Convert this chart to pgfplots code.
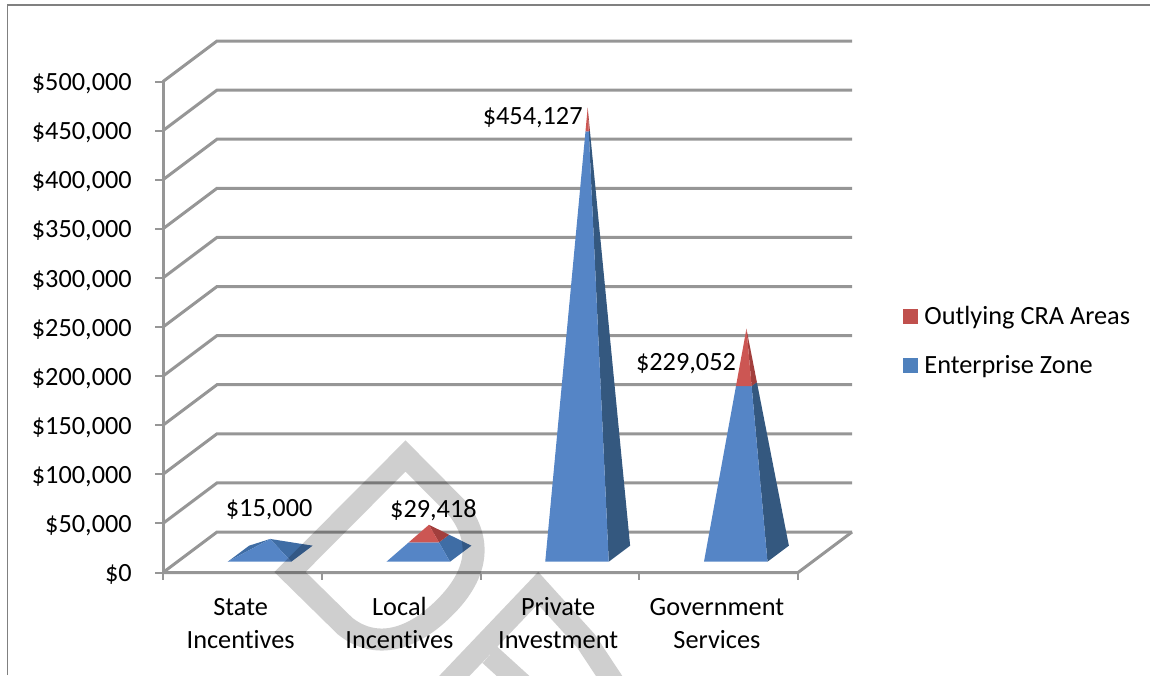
\documentclass[border=0pt]{standalone}
\usepackage{pgfplots}
\pgfplotsset{compat=1.18}
\usepackage{fontspec}
\setmainfont[Ligatures=NoCommon]{Carlito}
\definecolor{wall}{HTML}{969696}
\definecolor{ezfront}{HTML}{5585C6}
\definecolor{ezside}{HTML}{34587F}
\definecolor{ezsoft}{HTML}{3F6DA5}
\definecolor{crafront}{HTML}{CC5653}
\definecolor{craside}{HTML}{A23F3D}
\definecolor{legred}{HTML}{C0504D}
\definecolor{legblue}{HTML}{4F81BD}
\newcommand{\chartfont}{\fontsize{26.3}{33}\selectfont}
\pgfplotsset{
  face/.style={forget plot, draw=none, fill=#1},
  wallline/.style={forget plot, draw=wall, line width=3pt, line join=miter},
  swatch/.style={legend image code/.code={\path[draw=none] (0pt,0pt) -- (19pt,0pt); \fill[#1, draw=none] (0pt,-7.5pt) rectangle (15pt,7.5pt);}},
}
\begin{document}
\begin{tikzpicture}[x=1pt,y=1pt]
\path[use as bounding box] (0,0) rectangle (1150,-675);
% outer chart frame
\draw[draw=gray, line width=1.5pt] (7.5,-675) -- (7.5,-5) -- (1150,-5);
% heights on the vertical axis are in thousands of dollars
\begin{axis}[
  anchor=origin, at={(163pt,-572.5pt)},
  x={(158.75pt,0pt)}, y={(54pt,40.5pt)}, z={(0pt,0.982pt)},
  xmin=0, xmax=4, ymin=0, ymax=1, zmin=0, zmax=500,
  clip=false,
  axis lines=left,
  axis line style={draw=none},
  major tick style={draw=none},
  xtick={0.5,1.5,2.5,3.5},
  xticklabels={\strut State\\\strut Incentives,\strut Local\\\strut Incentives,\strut Private\\\strut Investment,\strut Government\\\strut Services},
  ytick=\empty,
  ztick={0,50,100,150,200,250,300,350,400,450,500},
  zticklabels={\$0,{\$50,000},{\$100,000},{\$150,000},{\$200,000},{\$250,000},{\$300,000},{\$350,000},{\$400,000},{\$450,000},{\$500,000}},
  x tick label style={font=\chartfont, align=center, anchor=north, yshift=-15pt},
  z tick label style={font=\chartfont, anchor=east, xshift=-26pt, yshift=-1pt},
  legend style={draw=none, fill=none, at={(1.07,0.436)}, anchor=west, font=\chartfont,
    legend cell align=left, row sep=25pt},
]
% side and back walls, one polyline for each gridline level
\pgfplotsinvokeforeach{0,50,100,150,200,250,300,350,400,450,500}{
  \addplot3[wallline] coordinates {(0,0,#1) (0,1,#1) (4,1,#1)};
  \addplot3[wallline, line width=2pt] coordinates {(-0.05,0,#1) (0,0,#1)};
}
% floor outline, value axis and category ticks
\addplot3[wallline] coordinates {(0,0,0) (4,0,0) (4,1,0)};
\addplot3[wallline] coordinates {(0,0,0) (0,0,500)};
\pgfplotsinvokeforeach{0,1,2,3,4}{
  \addplot3[wallline, line width=2pt] coordinates {(#1,0,0) (#1,0,-8)};
}
% State Incentives: $15,000, all Enterprise Zone
\addplot3[face=ezsoft] coordinates {(0.317,0.267,0) (0.317,0.663,0) (0.517,0.465,15)} -- cycle;
\addplot3[face=ezsoft] coordinates {(0.717,0.267,0) (0.717,0.663,0) (0.517,0.465,15)} -- cycle;
\addplot3[face=ezfront] coordinates {(0.317,0.267,0) (0.717,0.267,0) (0.517,0.465,15)} -- cycle;
% Local Incentives: $29,418
\addplot3[face=ezsoft] coordinates {(1.717,0.267,0) (1.717,0.663,0) (1.6122,0.5592,15.418) (1.6122,0.3708,15.418)} -- cycle;
\addplot3[face=ezfront] coordinates {(1.317,0.267,0) (1.717,0.267,0) (1.6122,0.3708,15.418) (1.4218,0.3708,15.418)} -- cycle;
\addplot3[face=craside] coordinates {(1.6122,0.3708,15.418) (1.6122,0.5592,15.418) (1.517,0.465,29.418)} -- cycle;
\addplot3[face=crafront] coordinates {(1.4218,0.3708,15.418) (1.6122,0.3708,15.418) (1.517,0.465,29.418)} -- cycle;
% Private Investment: $454,127
\addplot3[face=ezside] coordinates {(2.717,0.267,0) (2.717,0.663,0) (2.5274,0.4753,430.5) (2.5274,0.4547,430.5)} -- cycle;
\addplot3[face=ezfront] coordinates {(2.317,0.267,0) (2.717,0.267,0) (2.5274,0.4547,430.5) (2.5066,0.4547,430.5)} -- cycle;
\addplot3[face=craside] coordinates {(2.5274,0.4547,430.5) (2.5274,0.4753,430.5) (2.517,0.465,454.127)} -- cycle;
\addplot3[face=crafront] coordinates {(2.5066,0.4547,430.5) (2.5274,0.4547,430.5) (2.517,0.465,454.127)} -- cycle;
% Government Services: $229,052
\addplot3[face=ezside] coordinates {(3.717,0.267,0) (3.717,0.663,0) (3.5662,0.5137,172.7) (3.5662,0.4163,172.7)} -- cycle;
\addplot3[face=ezfront] coordinates {(3.317,0.267,0) (3.717,0.267,0) (3.5662,0.4163,172.7) (3.4678,0.4163,172.7)} -- cycle;
\addplot3[face=craside] coordinates {(3.5662,0.4163,172.7) (3.5662,0.5137,172.7) (3.517,0.465,229.052)} -- cycle;
\addplot3[face=crafront] coordinates {(3.4678,0.4163,172.7) (3.5662,0.4163,172.7) (3.517,0.465,229.052)} -- cycle;
% value labels, placed from each pyramid's apex
\node[font=\chartfont, xshift=-1pt, yshift=29pt] at (axis cs:0.517,0.465,15) {\$15,000};
\node[font=\chartfont, xshift=4.5pt, yshift=15pt] at (axis cs:1.517,0.465,29.418) {\$29,418};
\node[font=\chartfont, xshift=-55pt, yshift=-10pt] at (axis cs:2.517,0.465,454.127) {\$454,127};
\node[font=\chartfont, xshift=-60.5pt, yshift=-35pt] at (axis cs:3.517,0.465,229.052) {\$229,052};
% legend keys
\addlegendimage{swatch=legred}
\addlegendentry{Outlying CRA Areas}
\addlegendimage{swatch=legblue}
\addlegendentry{Enterprise Zone}
\end{axis}
% DRAFT watermark laid over the chart, multiplying down whatever it crosses
\draw[black, draw opacity=0.19, line width=22pt, line join=miter, miter limit=10]
  (405.5,-456) -- (290,-572) -- (345,-626) .. controls (375,-650) and (410,-640) .. (440,-612)
  .. controls (480,-575) and (482,-540) .. (458,-509) -- cycle;
\draw[black, draw opacity=0.19, line width=22pt, line join=miter, miter limit=10]
  (420,-712) -- (538,-588) -- (586,-641) -- (625,-700)
  (490,-655) -- (545,-705);
\end{tikzpicture}
\end{document}
